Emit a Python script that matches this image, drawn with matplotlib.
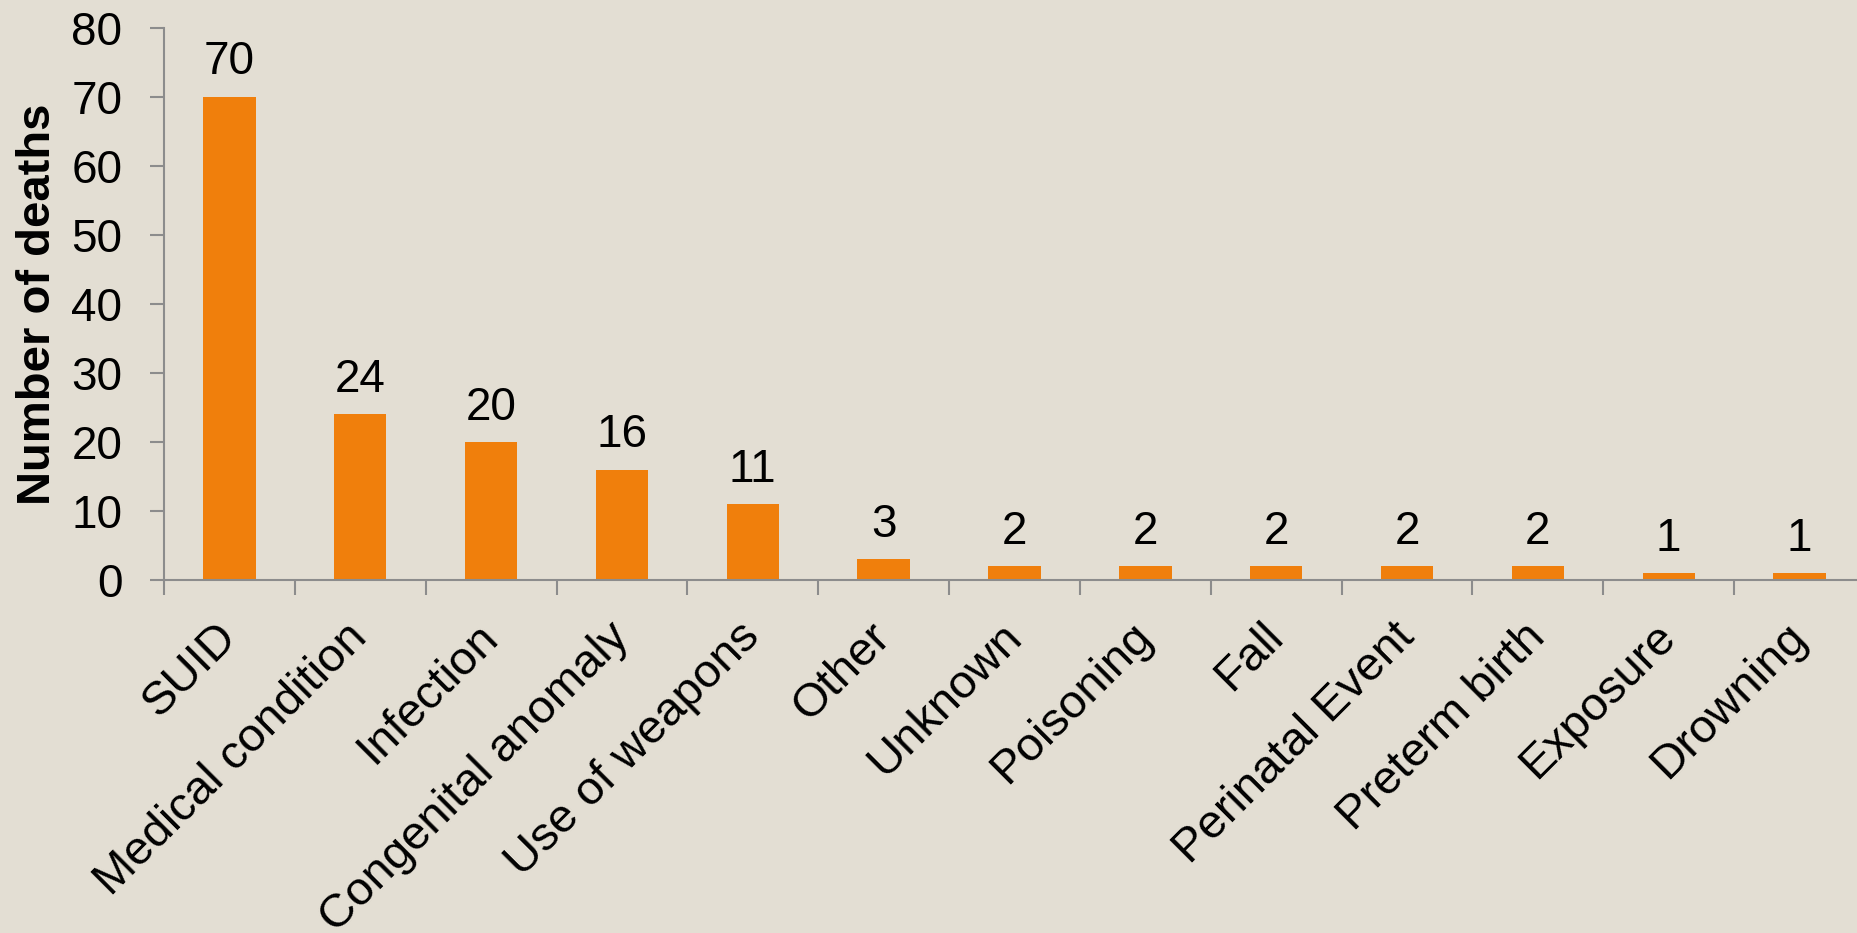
import matplotlib.pyplot as plt
import matplotlib.transforms as mtransforms
import numpy as np

plt.rcParams['font.family'] = ['Liberation Sans', 'DejaVu Sans']

causes = ['SUID', 'Medical condition', 'Infection', 'Congenital anomaly',
          'Use of weapons', 'Other', 'Unknown', 'Poisoning', 'Fall',
          'Perinatal Event', 'Preterm birth', 'Exposure', 'Drowning']
deaths = [70, 24, 20, 16, 11, 3, 2, 2, 2, 2, 2, 1, 1]

bg = '#e3ded3'
orange = '#f07f0c'
axcol = '#8c8c8c'

fig = plt.figure(figsize=(18.57, 9.33), dpi=100, facecolor=bg)
ax = fig.add_axes([164/1857, 1-580/933, (1865-164)/1857, (580-28)/933])
ax.set_facecolor(bg)

x = np.arange(len(causes))
ax.bar(x, deaths, width=0.4, color=orange)
for xi, v in zip(x, deaths):
    ax.annotate(str(v), (xi, v), xytext=(0, 9), textcoords='offset points',
                ha='center', va='bottom', fontsize=33)

ax.set_xlim(-0.5, len(causes) - 0.5)
ax.set_ylim(0, 80)
ax.set_yticks(range(0, 81, 10))
ax.tick_params(axis='y', labelsize=33, length=10, width=1.5, color=axcol, pad=20)

# boundaries get the tick marks, centres get the labels
ax.set_xticks(np.arange(-0.5, len(causes)), minor=False)
ax.set_xticklabels([])
ax.set_xticks(x, minor=True)
ax.set_xticklabels(causes, minor=True, rotation=45, ha='right',
                   rotation_mode='anchor', fontsize=34)
ax.tick_params(axis='x', which='major', length=11, width=1.5, color=axcol)
ax.tick_params(axis='x', which='minor', length=0, pad=25)
shift = mtransforms.ScaledTranslation(-11/72, 0, fig.dpi_scale_trans)
for lbl in ax.get_xticklabels(minor=True):
    lbl.set_transform(lbl.get_transform() + shift)

for s in ['top', 'right']:
    ax.spines[s].set_visible(False)
for s in ['left', 'bottom']:
    ax.spines[s].set_color(axcol)
    ax.spines[s].set_linewidth(1.5)

ax.set_ylabel('Number of deaths', fontsize=34, fontweight='bold', labelpad=8)

fig.savefig('out.png', dpi=100, facecolor=bg)
